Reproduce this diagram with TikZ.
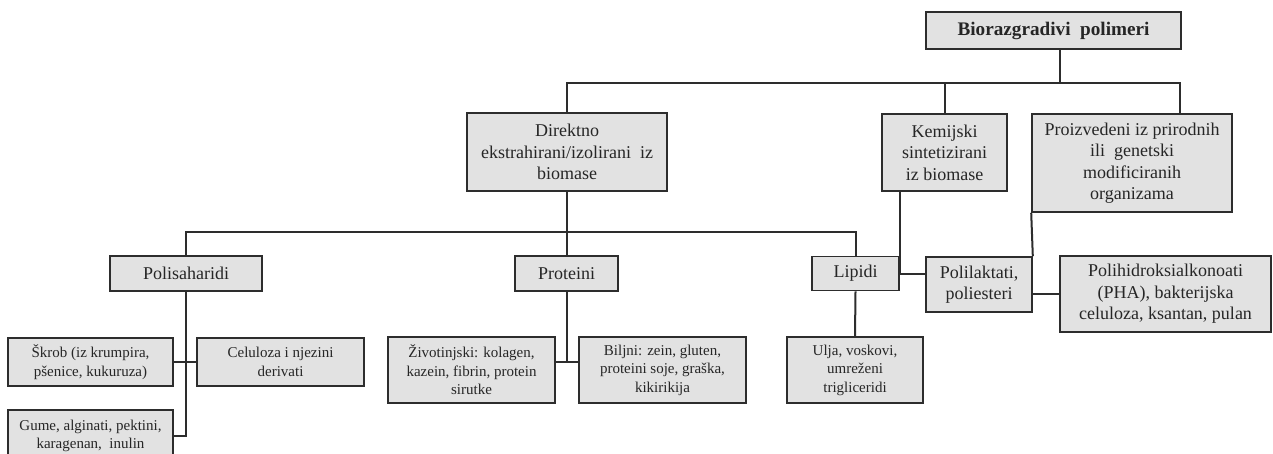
\documentclass[tikz,border=0pt]{standalone}
\usepackage{fontspec}
\setmainfont{Liberation Serif}
\usepackage{tikz}
\usetikzlibrary{positioning,calc}
\definecolor{boxfill}{RGB}{226,226,226}
\definecolor{linegray}{RGB}{45,45,45}

\begin{document}
\begin{tikzpicture}[x=1pt, y=-1pt]
        \tikzset{box/.style={rectangle, draw=linegray, line width=1.6pt, fill=boxfill, align=center, inner sep=0pt, font=\fontsize{18}{21.5}\selectfont, text=black!85}, leaf/.style={box, font=\fontsize{15}{18.5}\selectfont}, link/.style={draw=linegray, line width=2pt}}
        \useasboundingbox (0,0) rectangle (1273,453);
        \fill[white] (0,0) rectangle (1273,453);
        \node[box, minimum width=255pt, minimum height=37pt, font=\fontsize{19.2}{22}\selectfont\bfseries] (root) at (1053.5,30.5) {Biorazgradivi\ \ polimeri};
        \node[box, minimum width=200pt, minimum height=78pt] (direct) at (567,152) {Direktno\\ekstrahirani/izolirani\ \ iz\\biomase};
        \node[box, minimum width=125pt, minimum height=77pt] (chem) at (944.5,152.5) {Kemijski\\sintetizirani\\iz biomase};
        \node[box, minimum width=200pt, minimum height=98pt] (organ) at (1132,163) {Proizvedeni iz prirodnih\\ili\ \ genetski\\modificiranih\\organizama};
        \node[box, minimum width=152pt, minimum height=35pt] (polys) at (186,273.5) {Polisaharidi};
        \node[box, minimum width=103pt, minimum height=35pt] (prot) at (566.5,273.5) {Proteini};
        \node[box, minimum width=87pt, minimum height=34pt] (lipid) at (855.5,273.5) {Lipidi};
        \node[box, minimum width=106pt, minimum height=55pt] (pla) at (979,284.5) {Polilaktati,\\poliesteri};
        \node[box, minimum width=211pt, minimum height=76pt] (pha) at (1165.5,294) {Polihidroksialkonoati\\(PHA), bakterijska\\celuloza,\ ksantan, pulan};
        \node[leaf, minimum width=165pt, minimum height=48pt] (starch) at (90.5,362) {Škrob (iz krumpira,\\pšenice, kukuruza)};
        \node[leaf, minimum width=167pt, minimum height=48pt] (cell) at (280.5,362) {Celuloza i njezini\\derivati};
        \node[leaf, minimum width=165pt, minimum height=52pt] (gums) at (90.5,436) {Gume, alginati, pektini,\\karagenan,\ \ inulin};
        \node[leaf, minimum width=167pt, minimum height=66pt] (animal) at (471.5,370) {Životinjski: kolagen,\\kazein,\ fibrin, protein\\sirutke};
        \node[leaf, minimum width=167pt, minimum height=66pt] (plant) at (662.5,370) {Biljni: zein, gluten,\\proteini soje, graška,\\kikirikija};
        \node[leaf, minimum width=136pt, minimum height=66pt] (oils) at (855,370) {Ulja, voskovi,\\umreženi\\trigliceridi};
        \coordinate (topbar) at (1060,83);
        \coordinate (midbar) at (567,232);
        \coordinate (protj) at (566.5,362);
        \draw[link] ([xshift=6.5pt]root.south) -- (topbar);
        \draw[link] (direct.north) |- (topbar -| 1180,0) -- (organ.north -| 1180,0);
        \draw[link] (chem.north) -- (chem.north |- topbar);
        \draw[link] (direct.south) -- (midbar);
        \draw[link] (polys.north) |- (midbar) -| (lipid.north);
        \draw[link] (prot.north) -- (prot.north |- midbar);
        \draw[link] (chem.south -| lipid.east) -- (lipid.east) -- (lipid.east -| pla.west);
        \draw[link] (organ.south west) -- (pla.north east);
        \draw[link] (pha.west -| pla.east) -- (pha.west);
        \draw[link] (polys.south) -- (polys.south |- gums.east) -- (gums.east);
        \draw[link] (starch.east) -- (cell.west);
        \draw[link] (prot.south) -- (protj);
        \draw[link] (protj -| animal.east) -- (protj -| plant.west);
        \draw[link] (lipid.south) -- (oils.north);
    \end{tikzpicture}
\end{document}
